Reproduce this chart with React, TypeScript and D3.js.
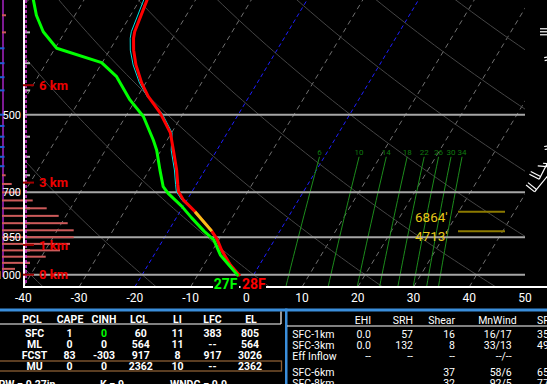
import React from 'react';
import * as d3 from 'd3';

const W = 547;
const H = 384;
const FONT = "Roboto, 'Noto Sans', 'DejaVu Sans', sans-serif";

// ---------- sounding data (hPa, °C) ----------
const TEMP_PRES = [285, 304, 349, 359, 378, 403, 436, 462, 496, 541, 583, 635, 677, 698, 724, 761, 828, 857, 899, 959, 1006];
const TEMP_C = [-49.8, -48.7, -47.5, -47.0, -45.7, -43.7, -40.7, -38.1, -34.2, -30.2, -27.8, -25.1, -23.3, -22.4, -20.6, -17.3, -12.2, -10.4, -8.4, -5.2, -2.3];
const WETB_C = [-50.4, -49.3, -48.1, -47.6, -46.3, -44.2, -41.1, -38.3, -33.9, -29.9, -28.2, -25.5, -23.7, -22.8, -20.9, -17.5, -12.4, -10.6, -8.5, -5.3, -2.4];
const DWPT_PRES = [285, 304, 325, 349, 375, 399, 424, 469, 504, 558, 583, 635, 683, 703, 743, 781, 828, 860, 918, 965, 1006];
const DWPT_C = [-71.3, -69.1, -66.9, -63.9, -59.7, -50.1, -45.9, -41.0, -36.8, -32.5, -30.8, -28.1, -25.7, -24.1, -20.3, -17.3, -13.6, -10.9, -8.1, -5.1, -2.6];

// dendritic growth zone (hPa) and its heights
const DGZ_PRES = [761, 828];
const DGZ_LABELS = ["6864'", "4713'"];
const SFC_LABELS = ['27F', '28F'];

// grid
const PRES_LINES = [1000, 850, 700, 500];
const PRES_LABELS = ['1000', '850', '700', '500'];
const PRES_TICKS = [350, 400, 450, 550, 600, 650, 750, 800, 900, 950];
const TICK_TEMPS = [-40, -30, -20, -10, 0, 10, 20, 30, 40, 50];
const ISOTHERMS = [-120, -110, -100, -90, -80, -70, -60, -50, -40, -30, -20, -10, 0, 10, 20, 30, 40, 50];
const BLUE_ISOTHERMS = [-20, 0];
const DRY_THETAS = [-40, -20, 0, 20, 40, 60, 80, 100, 120, 140, 160];
const MIX_RATIOS = [6, 10, 14, 18, 22, 26, 30, 34];

// height markers
const HEIGHT_LABELS = ['0 km', '1 km', '3 km', '6 km'];
const HEIGHT_PRES = [1000, 879, 671, 440];

// left-side vertical-motion bars
const OMEGA_PRES = [325, 350, 375, 400, 425, 450, 475, 500, 525, 550, 575, 600, 625, 650, 675, 700, 725, 750, 775, 800, 825, 850, 875, 900, 925, 950, 975];
const OMEGA_VAL = [4, 4, -5, -5, -5, -5, 0, -5, -5, -5, -5, -5, -5, 3.7, 9.7, 18, 30.7, 44.7, 56.7, 65.7, 71.7, 71.7, 68, 58, 43.7, 28, 13];

// wind barbs
const BARB_PRES = [316, 351, 389, 430, 475, 516, 560, 598, 640];
const BARB_DIR = [180, 170, 165, 165, 165, 170, 185, 207, 219];
const BARB_SPD = [30, 20, 10, 10, 10, 20, 15, 20, 20];

// parcel table
const PCL_HEAD = ['PCL', 'CAPE', 'CINH', 'LCL', 'LI', 'LFC', 'EL'];
const PCL_NAME = ['SFC', 'ML', 'FCST', 'MU'];
const PCL_CAPE = ['1', '0', '83', '0'];
const PCL_CINH = ['0', '0', '-303', '0'];
const PCL_LCL = ['60', '564', '917', '2362'];
const PCL_LI = ['11', '11', '8', '10'];
const PCL_LFC = ['383', '--', '917', '--'];
const PCL_EL = ['805', '564', '3026', '2362'];
const IDX_LABELS = ['PW = 0.27in', 'K = 9', 'WNDG = 0.0'];

// kinematic table
const KIN_HEAD = ['EHI', 'SRH', 'Shear', 'MnWind', 'SRW'];
const KIN_LAYER = ['SFC-1km', 'SFC-3km', 'Eff Inflow', 'SFC-6km', 'SFC-8km'];
const KIN_EHI = ['0.0', '0.0', '--', '', ''];
const KIN_SRH = ['57', '132', '--', '', ''];
const KIN_SHEAR = ['16', '8', '--', '37', '32'];
const KIN_MNWIND = ['16/17', '33/13', '--/--', '58/6', '92/5'];
const KIN_SRW = ['35/15', '49/12', '', '65/8', '77/6'];

// ---------- thermo helpers ----------
const dryT = (thetaC: number, p: number) => (thetaC + 273.15) * Math.pow(p / 1000, 0.2857) - 273.15;
const mixT = (w: number, p: number) => {
  const e = (w * p) / (622 + w);
  const a = Math.log(e / 6.112);
  return (243.5 * a) / (17.67 - a);
};

export default function App() {
  const yP = d3.scaleLog().domain([1000, 500]).range([274.7, 114.7]);
  const xT = d3.scaleLinear().domain([-40, 50]).range([23.3, 525]);
  const YB = 287;
  const SKEW = 0.6;
  const xOf = (t: number, p: number) => xT(t) + SKEW * (YB - yP(p));
  const line = d3.line<[number, number]>().x((d) => xOf(d[1], d[0])).y((d) => yP(d[0]));
  const omegaX = d3.scaleLinear().domain([0, 72]).range([3, 75]);

  const tempPts: [number, number][] = TEMP_PRES.map((p, i) => [p, TEMP_C[i]]);
  const wetPts: [number, number][] = TEMP_PRES.map((p, i) => [p, WETB_C[i]]);
  const dwPts: [number, number][] = DWPT_PRES.map((p, i) => [p, DWPT_C[i]]);

  // DGZ segment of temperature line
  const lp = TEMP_PRES.map((p) => Math.log(p));
  const tInterp = d3.scaleLinear().domain(lp).range(TEMP_C);
  const dgzPts: [number, number][] = [];
  dgzPts.push([DGZ_PRES[0], tInterp(Math.log(DGZ_PRES[0]))]);
  TEMP_PRES.forEach((p, i) => {
    if (p > DGZ_PRES[0] && p < DGZ_PRES[1]) dgzPts.push([p, TEMP_C[i]]);
  });
  dgzPts.push([DGZ_PRES[1], tInterp(Math.log(DGZ_PRES[1]))]);

  const adiabatPres = d3.range(1060, 239, -10);
  const mixPres = d3.range(1050, 599, -25);

  const sfcT = TEMP_C[TEMP_C.length - 1];
  const sfcP = TEMP_PRES[TEMP_PRES.length - 1];
  const sfcTd = DWPT_C[DWPT_C.length - 1];
  const xTd = xOf(sfcTd, sfcP) - 0.8;
  const xTt = xOf(sfcT, sfcP) + 2;

  // wind barbs
  const barbEls: JSX.Element[] = [];
  BARB_PRES.forEach((p, i) => {
    const sx = 551;
    const sy = yP(p);
    const d = (BARB_DIR[i] * Math.PI) / 180;
    const ux = Math.sin(d);
    const uy = -Math.cos(d);
    const L = 26;
    const tx = sx + ux * L;
    const ty = sy + uy * L;
    const px = -uy;
    const py = ux;
    barbEls.push(<line key={`bs${i}`} x1={sx} y1={sy} x2={tx} y2={ty} stroke="#fff" strokeWidth={1.2} />);
    let spd = BARB_SPD[i];
    let k = 0;
    while (spd >= 10) {
      const bx = tx - ux * 3 * k;
      const by = ty - uy * 3 * k;
      barbEls.push(<line key={`bf${i}-${k}`} x1={bx} y1={by} x2={bx + px * 11} y2={by + py * 11} stroke="#fff" strokeWidth={1.2} />);
      spd -= 10;
      k++;
    }
    if (spd >= 5) {
      const bx = tx - ux * 3 * (k === 0 ? 1 : k);
      const by = ty - uy * 3 * (k === 0 ? 1 : k);
      barbEls.push(<line key={`bh${i}`} x1={bx} y1={by} x2={bx + px * 6} y2={by + py * 6} stroke="#fff" strokeWidth={1.2} />);
    }
  });

  const pclCols = [PCL_NAME, PCL_CAPE, PCL_CINH, PCL_LCL, PCL_LI, PCL_LFC, PCL_EL];
  const pclHeadX = [32, 70, 104, 139, 177.5, 212.5, 251];
  const pclColX = [34.5, 69.5, 104, 140.8, 177.5, 212.5, 250];
  const pclRowY = [336.5, 348, 359, 370];

  const kinCols = [KIN_EHI, KIN_SRH, KIN_SHEAR, KIN_MNWIND];
  const kinHeadX = [371, 413, 455, 516.7];
  const kinColX = [371, 413, 455, 511.7];
  const kinRowY = [337.7, 348.7, 359.7, 375.7, 386.7];
  const TFS = 10.5;

  return (
    <svg
      width={W}
      height={H}
      viewBox={`0 0 ${W} ${H}`}
      style={{ position: 'fixed', left: 0, top: 0, background: '#000', display: 'block' }}
      fontFamily={FONT}
    >
      <rect x={0} y={0} width={W} height={H} fill="#000" />
      <defs>
        <clipPath id="plotClip">
          <rect x={25} y={-20} width={500} height={YB + 20} />
        </clipPath>
      </defs>

      <g clipPath="url(#plotClip)">
        {ISOTHERMS.filter((t) => !BLUE_ISOTHERMS.includes(t)).map((t) => (
          <line key={`it${t}`} x1={xT(t)} y1={YB} x2={xT(t) + SKEW * (YB + 10)} y2={-10}
            stroke="#707070" strokeWidth={1} strokeDasharray="5,4" />
        ))}
        {BLUE_ISOTHERMS.map((t) => (
          <line key={`bt${t}`} x1={xT(t)} y1={YB} x2={xT(t) + SKEW * (YB + 10)} y2={-10}
            stroke="#1e1eff" strokeWidth={1} strokeDasharray="4,3" />
        ))}
        {DRY_THETAS.map((th) => (
          <path key={`da${th}`} d={line(adiabatPres.map((p) => [p, dryT(th, p)] as [number, number])) || ''}
            fill="none" stroke="#454545" strokeWidth={1} />
        ))}
        {MIX_RATIOS.map((w) => (
          <g key={`mr${w}`}>
            <path d={line(mixPres.map((p) => [p, mixT(w, p)] as [number, number])) || ''}
              fill="none" stroke="#1c8c1c" strokeWidth={1} />
            <text x={xOf(mixT(w, 600), 600)} y={yP(600) - 1.5} fill="#0f7a0f" fontSize={8} textAnchor="middle">{w}</text>
          </g>
        ))}
        {PRES_LINES.map((p) => (
          <line key={`pl${p}`} x1={25} x2={525} y1={yP(p)} y2={yP(p)} stroke="#a6a6a6" strokeWidth={2} />
        ))}
        {PRES_TICKS.map((p) => (
          <line key={`pt${p}`} x1={25} x2={30} y1={yP(p)} y2={yP(p)} stroke="#b4b4b4" strokeWidth={2} />
        ))}

        {/* profiles */}
        <path d={line(wetPts) || ''} fill="none" stroke="#00e0e0" strokeWidth={1} />
        <path d={line(tempPts) || ''} fill="none" stroke="#ff0000" strokeWidth={3} strokeLinejoin="round" />
        <path d={line(dgzPts) || ''} fill="none" stroke="#f5c01a" strokeWidth={3} />
        <path d={line(dwPts) || ''} fill="none" stroke="#00ff00" strokeWidth={3} strokeLinejoin="round" />

        {/* DGZ markers */}
        {DGZ_PRES.map((p, i) => (
          <g key={`dgz${i}`}>
            <line x1={458} x2={505} y1={yP(p)} y2={yP(p)} stroke="#8c7a00" strokeWidth={2} />
            <text x={415} y={yP(p) + 10} fill="#e8c81a" fontSize={13.5}>{DGZ_LABELS[i]}</text>
          </g>
        ))}
      </g>

      {/* vertical motion bars */}
      <line x1={3} x2={3} y1={0} y2={277} stroke="#7d1a93" strokeWidth={2} />
      {OMEGA_PRES.map((p, i) => {
        const v = OMEGA_VAL[i];
        if (v === 0) return null;
        if (v > 0) {
          return <rect key={`om${p}`} x={2} y={yP(p) - 1} width={omegaX(v) - 3} height={2} fill="#cd5a5a" />;
        }
        return <rect key={`om${p}`} x={omegaX(v)} y={yP(p) - 1} width={-v + 1.5} height={2} fill="#1f5fd6" />;
      })}

      {/* axes */}
      <line x1={24} x2={24} y1={0} y2={288} stroke="#fff" strokeWidth={2} />
      <line x1={26} x2={26} y1={0} y2={284} stroke="#e040e0" strokeWidth={1.5} strokeDasharray="3,2" />
      <line x1={23} x2={W} y1={YB} y2={YB} stroke="#fff" strokeWidth={2} />

      {PRES_LINES.map((p, i) => (
        <text key={`plab${p}`} x={21} y={yP(p) + 4} fill="#fff" fontSize={11} textAnchor="end">{PRES_LABELS[i]}</text>
      ))}
      {TICK_TEMPS.map((t) => (
        <text key={`tl${t}`} x={xT(t)} y={301.5} fill="#fff" fontSize={12} textAnchor="middle">{t}</text>
      ))}

      {/* heights */}
      {HEIGHT_PRES.map((p, i) => (
        <g key={`hk${i}`}>
          <line x1={23} x2={34} y1={yP(p)} y2={yP(p)} stroke="#a00000" strokeWidth={2} />
          <text x={39} y={yP(p) + 4.6} fill="#ee0000" fontSize={13} fontWeight="bold">{HEIGHT_LABELS[i]}</text>
        </g>
      ))}

      {/* surface labels */}
      <rect x={xTd - 24.5} y={278} width={26} height={12} fill="#000" />
      <rect x={xTt - 1.5} y={278} width={25.5} height={12} fill="#000" />
      <text x={xTd} y={289.3} fill="#00ff00" fontSize={14} fontWeight="bold" textAnchor="end">{SFC_LABELS[0]}</text>
      <text x={xTt} y={289.3} fill="#ff0000" fontSize={14} fontWeight="bold">{SFC_LABELS[1]}</text>

      {/* wind barbs */}
      <g>{barbEls}</g>

      {/* tables */}
      <rect x={0} y={308.5} width={W} height={3} fill="#3a8edb" />
      <rect x={285} y={308.5} width={2.5} height={H - 308.5} fill="#3a8edb" />
      <line x1={0} x2={281} y1={324} y2={324} stroke="#fff" strokeWidth={1.2} />
      <line x1={281} x2={281} y1={311.5} y2={324} stroke="#fff" strokeWidth={1.2} />
      <rect x={-2} y={361} width={283.5} height={10} fill="none" stroke="#8b5e34" strokeWidth={1.3} />

      {PCL_HEAD.map((h, i) => (
        <text key={`ph${i}`} x={pclHeadX[i]} y={322.5} fill="#fff" fontSize={TFS} fontWeight="bold" textAnchor="middle">{h}</text>
      ))}
      {pclCols.map((col, ci) =>
        col.map((v, ri) => (
          <text key={`pc${ci}-${ri}`} x={pclColX[ci]} y={pclRowY[ri]}
            fill={ci === 2 && ri === 0 ? '#00ff00' : '#fff'} fontSize={TFS} fontWeight="bold" textAnchor="middle">{v}</text>
        ))
      )}
      <text x={-1.5} y={387.5} fill="#fff" fontSize={TFS} fontWeight="bold">{IDX_LABELS[0]}</text>
      <text x={100} y={387.5} fill="#fff" fontSize={TFS} fontWeight="bold">{IDX_LABELS[1]}</text>
      <text x={170} y={387.5} fill="#fff" fontSize={TFS} fontWeight="bold">{IDX_LABELS[2]}</text>

      <line x1={287} x2={W} y1={326} y2={326} stroke="#fff" strokeWidth={1.2} />
      {KIN_HEAD.slice(0, 4).map((h, i) => (
        <text key={`kh${i}`} x={kinHeadX[i]} y={324.4} fill="#fff" fontSize={TFS} textAnchor="end">{h}</text>
      ))}
      <text x={537} y={324.4} fill="#fff" fontSize={TFS}>{KIN_HEAD[4]}</text>
      {KIN_LAYER.map((l, ri) => (
        <text key={`kl${ri}`} x={292.3} y={kinRowY[ri]} fill="#fff" fontSize={TFS}>{l}</text>
      ))}
      {kinCols.map((col, ci) =>
        col.map((v, ri) => (
          <text key={`kc${ci}-${ri}`} x={kinColX[ci]} y={kinRowY[ri]} fill="#fff" fontSize={TFS} textAnchor="end">{v}</text>
        ))
      )}
      {KIN_SRW.map((v, ri) => (
        <text key={`ks${ri}`} x={537} y={kinRowY[ri]} fill="#fff" fontSize={TFS}>{v}</text>
      ))}
    </svg>
  );
}
